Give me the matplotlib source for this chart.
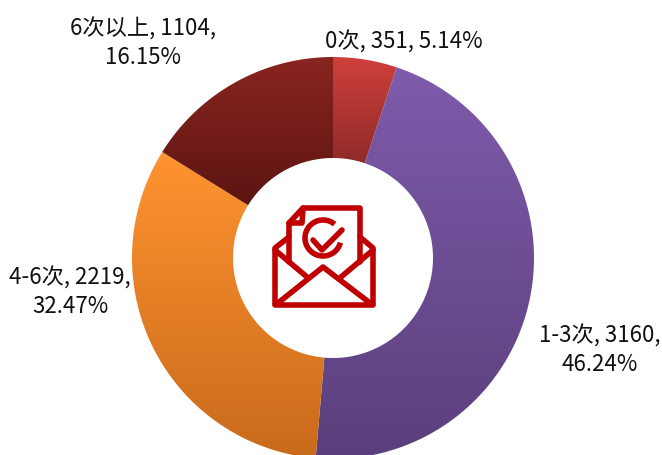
import matplotlib
matplotlib.use("Agg")
import matplotlib.pyplot as plt
import numpy as np
from matplotlib.patches import Polygon, Arc

plt.rcParams['font.family'] = ['Noto Sans CJK SC', 'DejaVu Sans']

categorias = ["0次", "1-3次", "4-6次", "6次以上"]
valores = [351, 3160, 2219, 1104]
porcentajes = ["5.14%", "46.24%", "32.47%", "16.15%"]
# color arriba / abajo de cada sector (degradado vertical)
colores_arriba = ["#d0403c", "#7f5bab", "#ff9430", "#8a2420"]
colores_abajo = ["#8f2a28", "#5a3f7c", "#c96a1c", "#5c1512"]

W, H = 662, 455
fig = plt.figure(figsize=(W / 100, H / 100), dpi=100)
ax = fig.add_axes([0, 0, 1, 1])

cx, cy = 333, 258
r_ext, r_int = 201, 100

total = sum(valores)
grad = np.linspace(0, 1, 256).reshape(-1, 1, 1)
inicio = 90.0
for i, v in enumerate(valores):
    ang = 360 * v / total
    # el eje y esta invertido: se recorre en sentido horario desde arriba
    t = np.radians(np.linspace(inicio, inicio - ang, 100))
    xs = np.concatenate([cx + r_ext * np.cos(t), cx + r_int * np.cos(t[::-1])])
    ys = np.concatenate([cy - r_ext * np.sin(t), cy - r_int * np.sin(t[::-1])])
    sector = Polygon(np.column_stack([xs, ys]), closed=True, fc="none", ec="none")
    ax.add_patch(sector)
    c1 = np.array(matplotlib.colors.to_rgb(colores_arriba[i]))
    c2 = np.array(matplotlib.colors.to_rgb(colores_abajo[i]))
    img = c1 + (c2 - c1) * grad
    im = ax.imshow(img, extent=[xs.min(), xs.max(), ys.max(), ys.min()], aspect="auto", zorder=1)
    im.set_clip_path(sector)
    inicio -= ang
ax.set_xlim(0, W)
ax.set_ylim(H, 0)
ax.axis("off")

# etiquetas
etiquetas = [
    (404, 42, f"{categorias[0]}, {valores[0]}, {porcentajes[0]}"),
    (600, 350, f"{categorias[1]}, {valores[1]},\n{porcentajes[1]}"),
    (70, 292, f"{categorias[2]}, {valores[2]},\n{porcentajes[2]}"),
    (143, 43, f"{categorias[3]}, {valores[3]},\n{porcentajes[3]}"),
]
for x, y, s in etiquetas:
    ax.text(x, y, s, ha="center", va="center", fontsize=16, color="#111111", linespacing=1.3, zorder=5)

# icono del sobre
rojo = "#c00000"
lw = 4.0
def linea(puntos, cerrado=False):
    ax.add_patch(Polygon(puntos, closed=cerrado, fill=False, ec=rojo, lw=lw, joinstyle="round",
                         capstyle="round", zorder=6))

# sobre
linea([(275, 304), (275, 248), (289, 237)])
linea([(373, 304), (373, 248), (360, 237)])
linea([(275, 305), (373, 305)])
linea([(275, 250), (307, 277)])
linea([(373, 250), (341, 277)])
linea([(278, 303), (323, 267), (370, 303)])
# hoja
linea([(289, 262), (289, 223), (303, 208), (360, 208), (360, 262)])
linea([(289, 223), (302, 223), (303, 208)])
# circulo con check
ax.add_patch(Arc((323, 238), 36, 36, theta1=15, theta2=310, ec=rojo, lw=lw, zorder=6))
linea([(313, 240), (322, 250), (342, 230)])

fig.savefig("out.png", dpi=100)
